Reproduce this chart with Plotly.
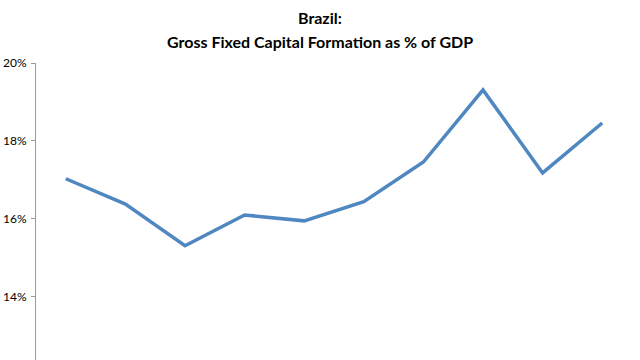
import plotly.graph_objects as go

years = ["2003", "2004", "2005", "2006", "2007", "2008", "2009", "2010", "2011", "2012"]
gfcf_pct = [17.03, 16.38, 15.31, 16.10, 15.95, 16.44, 17.46, 19.31, 17.18, 18.46]
y_ticks = [14, 16, 18, 20]
y_tick_labels = ["14%", "16%", "18%", "20%"]
title_lines = ["Brazil:", "Gross Fixed Capital Formation as % of GDP"]

fig = go.Figure()
fig.add_trace(go.Scatter(
    x=list(range(len(years))), y=gfcf_pct, mode="lines",
    line=dict(color="#4F87C0", width=3.5),
    hoverinfo="skip", showlegend=False,
))

font_family = "Lato, Open Sans, sans-serif"
for i, (txt, ypx) in enumerate(zip(title_lines, [18, 41])):
    fig.add_annotation(
        text=f"<b>{txt}</b>", xref="paper", yref="paper",
        x=(320 - 36) / (640 - 36 - 8), xanchor="center",
        y=1 + (63 - ypx) / (360 - 63), yanchor="middle",
        showarrow=False,
        font=dict(family=font_family, size=16, color="black"),
    )

fig.update_layout(
    width=640, height=360,
    margin=dict(l=36, r=8, t=63, b=0, autoexpand=False),
    paper_bgcolor="white", plot_bgcolor="white",
    xaxis=dict(
        range=[-0.5, 9.5], showgrid=False, zeroline=False, showline=False,
        showticklabels=False, ticks="", automargin=False,
    ),
    yaxis=dict(
        range=[12.38, 20], tickvals=y_ticks, ticktext=y_tick_labels,
        showgrid=False, zeroline=False, showline=True, linecolor="#9a9a9a", linewidth=1,
        ticks="outside", ticklen=4, tickcolor="#9a9a9a", automargin=False,
        ticklabelstandoff=2,
        tickfont=dict(family=font_family, size=12, color="black"),
    ),
)

fig.write_html(
    "out.html",
    config={"displayModeBar": False},
    post_script="document.body.style.margin='0';document.body.style.overflow='hidden';",
)
